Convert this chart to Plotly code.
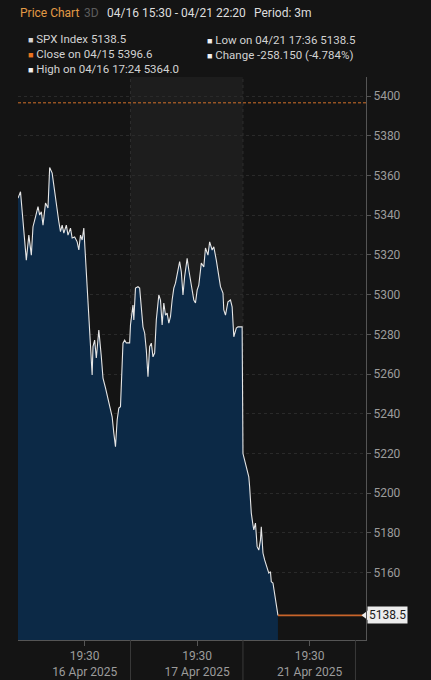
import plotly.graph_objects as go

# ---------------- data ----------------
session_dates = ["16 Apr 2025", "17 Apr 2025", "21 Apr 2025"]
session_open = "15:30"
session_minutes = 405          # 15:30 -> 22:15 slot per session
tick_time = "19:30"

day1_times = ["15:30", "15:39", "16:00", "16:09", "16:18", "16:24", "16:33", "16:42", "16:48", "16:54",
              "17:00", "17:06", "17:09", "17:18", "17:24", "17:33", "17:42", "17:51", "17:57", "18:03",
              "18:09", "18:15", "18:24", "18:30", "18:39", "18:45", "18:54", "19:03", "19:09", "19:15",
              "19:21", "19:27", "19:33", "19:36", "19:39", "19:45", "19:48", "19:51", "19:57", "20:00",
              "20:06", "20:12", "20:21", "20:30", "20:36", "20:45", "20:54", "21:00", "21:09", "21:15",
              "21:21", "21:27", "21:33", "21:39", "21:48", "21:54", "22:00", "22:12"]
day1_prices = [5348.6, 5351.8, 5317.4, 5330.0, 5319.9, 5334.2, 5339.2, 5344.3, 5340.1, 5341.7,
               5335.0, 5341.1, 5346.1, 5343.6, 5364.0, 5361.2, 5351.2, 5342.6, 5336.7, 5331.7,
               5335.0, 5331.0, 5335.0, 5330.0, 5333.5, 5328.5, 5329.0, 5326.6, 5322.5, 5330.0,
               5327.5, 5333.5, 5319.1, 5307.4, 5298.9, 5289.7, 5278.8, 5273.8, 5259.5, 5273.8,
               5277.1, 5268.1, 5282.2, 5268.7, 5258.0, 5253.0, 5246.9, 5243.6, 5238.5, 5230.3,
               5223.4, 5236.9, 5242.9, 5243.6, 5275.6, 5277.1, 5275.7, 5275.7]

day2_times = ["15:30", "15:39", "15:42", "15:48", "15:57", "16:03", "16:09", "16:15", "16:21", "16:27",
              "16:33", "16:39", "16:45", "16:51", "16:57", "17:03", "17:12", "17:18", "17:24", "17:30",
              "17:36", "17:42", "17:48", "17:54", "18:00", "18:06", "18:12", "18:21", "18:27", "18:33",
              "18:39", "18:45", "18:54", "19:00", "19:09", "19:18", "19:24", "19:30", "19:36", "19:45",
              "19:54", "20:00", "20:09", "20:15", "20:24", "20:30", "20:39", "20:45", "20:54", "21:03",
              "21:06", "21:12", "21:21", "21:30", "21:36", "21:42", "21:51", "21:57", "22:12"]
day2_prices = [5284.7, 5294.8, 5287.2, 5303.3, 5304.0, 5303.3, 5293.9, 5283.8, 5280.7, 5272.1,
               5258.7, 5273.8, 5275.6, 5268.7, 5270.6, 5287.2, 5299.8, 5297.3, 5284.7, 5295.8,
               5289.7, 5290.7, 5285.7, 5288.9, 5297.3, 5303.3, 5305.8, 5311.5, 5316.6, 5311.5,
               5299.8, 5309.0, 5318.3, 5312.4, 5305.8, 5297.3, 5295.8, 5302.3, 5304.8, 5315.9,
               5314.0, 5323.5, 5319.9, 5326.6, 5322.5, 5324.1, 5317.4, 5310.9, 5304.0, 5300.8,
               5292.3, 5289.7, 5296.4, 5297.3, 5293.9, 5278.8, 5283.2, 5283.8, 5283.8]

day3_times = ["15:30", "15:36", "15:42", "15:45", "15:51", "15:54", "16:00", "16:06", "16:09", "16:15",
              "16:21", "16:27", "16:33", "16:36", "16:42", "16:48", "16:57", "17:03", "17:09", "17:12",
              "17:18", "17:24", "17:30", "17:36"]
day3_prices = [5220.0, 5216.7, 5213.3, 5210.8, 5208.3, 5203.3, 5190.0, 5184.0, 5181.5, 5185.0,
               5173.1, 5171.4, 5176.4, 5183.1, 5169.9, 5166.4, 5162.3, 5159.8, 5160.5, 5155.4,
               5154.8, 5149.8, 5142.9, 5138.5]

prev_close = 5396.6
last_price = 5138.5
y_ticks = [5160, 5180, 5200, 5220, 5240, 5260, 5280, 5300, 5320, 5340, 5360, 5380, 5400]
y_range = [5126.1, 5409.6]

header_title = "Price Chart"
header_span = "3D"
header_dates = "04/16 15:30 - 04/21 22:20"
header_period = "Period: 3m"
legend_col1 = [("SPX Index 5138.5", "#d6d6d6"),
               ("Close on 04/15 5396.6", "#e8731f"),
               ("High on 04/16 17:24 5364.0", "#f2f2f2")]
legend_col2 = [("Low on 04/21 17:36 5138.5", "#f2f2f2"),
               ("Change -258.150 (-4.784%)", "#f2f2f2")]

# ---------------- build ----------------
def minutes(t):
    h, m = t.split(":")
    return int(h) * 60 + int(m)

def to_x(day_idx, t):
    return day_idx * session_minutes + minutes(t) - minutes(session_open)

xs, ys = [], []
for d, (tt, pp) in enumerate([(day1_times, day1_prices), (day2_times, day2_prices), (day3_times, day3_prices)]):
    for t, p in zip(tt, pp):
        xs.append(to_x(d, t))
        ys.append(p)

n_days = len(session_dates)
x_end = n_days * session_minutes + 38
x_range = [0, x_end]

W, H = 431, 680
ml, mr, mt, mb = 18, 65, 77, 40
pw, ph = W - ml - mr, H - mt - mb

def px(xp):
    return (xp - ml) / pw

def py(yp):
    return (H - mb - yp) / ph

BG = "#141414"
BAND = "#1d1d1d"
FONT = "Roboto"
GRAY = "#9c9c9c"
LEG_SIZE = 11.5

fig = go.Figure()

fig.add_trace(go.Scatter(
    x=xs, y=ys, mode="lines",
    line=dict(color="#e6e6e6", width=1.1),
    fill="tozeroy", fillcolor="#0c2946",
    hoverinfo="skip", showlegend=False,
))

# last-price line to right edge
fig.add_trace(go.Scatter(
    x=[xs[-1], x_end], y=[last_price, last_price], mode="lines",
    line=dict(color="#c8642a", width=1.6),
    hoverinfo="skip", showlegend=False,
))

# pointer for price label
fig.add_trace(go.Scatter(
    x=[x_end], y=[last_price], mode="markers",
    marker=dict(symbol="triangle-left", size=9, color="#ececec", line=dict(width=0)),
    cliponaxis=False, hoverinfo="skip", showlegend=False,
))

shapes = []
shapes.append(dict(type="rect", xref="x", yref="paper",
                   x0=session_minutes, x1=2 * session_minutes, y0=0, y1=1,
                   fillcolor=BAND, line=dict(width=0), layer="below"))
for d in range(1, n_days + 1):
    shapes.append(dict(type="line", xref="x", yref="paper",
                       x0=d * session_minutes, x1=d * session_minutes, y0=-mb / ph, y1=0,
                       line=dict(color="#3a3a3a", width=1)))
    if d < n_days:
        shapes.append(dict(type="line", xref="x", yref="paper",
                           x0=d * session_minutes, x1=d * session_minutes, y0=0, y1=1,
                           line=dict(color="#2e2e2e", width=1, dash="dot"), layer="below"))
shapes.append(dict(type="line", xref="paper", yref="y", x0=0, x1=1,
                   y0=prev_close, y1=prev_close,
                   line=dict(color="#d0702a", width=1, dash="3px,2px")))

annotations = []
hy = 13
for text, xpx, col in [(header_title, 18, "#e39a45"), (header_span, 82, "#5c5c5c"),
                       (header_dates, 105, "#dedede"), (header_period, 252, "#dedede")]:
    annotations.append(dict(text=text, xref="paper", yref="paper", x=px(xpx), y=py(hy),
                            xanchor="left", yanchor="middle", showarrow=False,
                            font=dict(family=FONT, size=12, color=col)))

def legend_block(rows):
    return "<br>".join(f'<span style="color:{sq};font-size:9px">■</span> {t}' for t, sq in rows)

annotations.append(dict(text=legend_block(legend_col1), xref="paper", yref="paper",
                        x=px(26), y=py(54.5), xanchor="left", yanchor="middle", align="left",
                        showarrow=False, font=dict(family=FONT, size=LEG_SIZE, color="#d2d2d2")))
annotations.append(dict(text=legend_block(legend_col2), xref="paper", yref="paper",
                        x=px(205), y=py(48), xanchor="left", yanchor="middle", align="left",
                        showarrow=False, font=dict(family=FONT, size=LEG_SIZE, color="#d2d2d2")))

annotations.append(dict(text=f"{last_price:.1f}", xref="paper", yref="y",
                        x=1, y=last_price, xanchor="left", yanchor="middle",
                        xshift=1, showarrow=False, bgcolor="#ececec", borderpad=1,
                        font=dict(family=FONT, size=12, color="#1a1a1a")))

fig.update_layout(
    width=W, height=H, autosize=False,
    margin=dict(l=ml, r=mr, t=mt, b=mb, autoexpand=False),
    paper_bgcolor=BG, plot_bgcolor=BG,
    shapes=shapes, annotations=annotations,
    showlegend=False,
    xaxis=dict(range=x_range, showgrid=False, zeroline=False, automargin=False,
               showline=True, linecolor="#555555", linewidth=1,
               tickvals=[d * session_minutes + minutes(tick_time) - minutes(session_open) for d in range(n_days)],
               ticktext=[f"{tick_time}<br>{s}" for s in session_dates],
               ticks="outside", ticklen=5, tickcolor="#555555",
               tickfont=dict(family=FONT, size=12, color=GRAY), fixedrange=True),
    yaxis=dict(range=y_range, side="right", tickvals=y_ticks, automargin=False,
               showgrid=True, gridcolor="#2a2a2a", griddash="dot", gridwidth=1,
               zeroline=False, showline=True, linecolor="#555555", linewidth=1,
               ticks="outside", ticklen=4, tickcolor="#555555",
               tickfont=dict(family=FONT, size=12, color=GRAY), fixedrange=True),
)

fig.write_html("out.html", config={"displayModeBar": False},
               post_script="document.body.style.margin='0';document.body.style.overflow='hidden';document.body.style.background='#141414';")
